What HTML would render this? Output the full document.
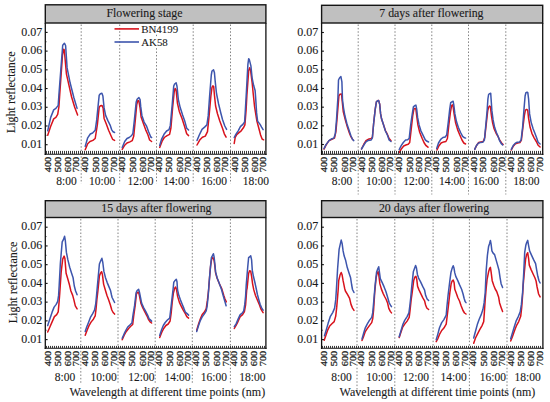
<!DOCTYPE html><html><head><meta charset="utf-8"><style>html,body{margin:0;padding:0;background:#fff;overflow:hidden}svg{display:block}text{font-family:"Liberation Serif",serif;fill:#1a1a1a;stroke:#1a1a1a;stroke-width:0.1px}</style></head><body>
<svg width="550" height="402" viewBox="0 0 550 402">
<rect x="0" y="0" width="550" height="402" fill="#fff"/>
<rect x="45.3" y="4.8" width="220.60" height="18.20" fill="#c0c0c0" stroke="#151515" stroke-width="1.4"/>
<text x="144.4" y="17.4" font-size="11.85" text-anchor="middle">Flowering stage</text>
<line x1="81.2" y1="24.5" x2="81.2" y2="183.5" stroke="#7a7a7a" stroke-width="0.95" stroke-dasharray="1.5,1.88"/>
<line x1="119.7" y1="24.5" x2="119.7" y2="183.5" stroke="#7a7a7a" stroke-width="0.95" stroke-dasharray="1.5,1.88"/>
<line x1="156.5" y1="24.5" x2="156.5" y2="183.5" stroke="#7a7a7a" stroke-width="0.95" stroke-dasharray="1.5,1.88"/>
<line x1="193.2" y1="24.5" x2="193.2" y2="183.5" stroke="#7a7a7a" stroke-width="0.95" stroke-dasharray="1.5,1.88"/>
<line x1="230.5" y1="24.5" x2="230.5" y2="183.5" stroke="#7a7a7a" stroke-width="0.95" stroke-dasharray="1.5,1.88"/>
<polyline points="47.7,135.3 50.7,126.3 53.7,118.9 55.9,117.4 57.7,114.4 58.9,107.0 59.7,95.0 62.5,55.0 63.7,49.2 64.3,50.0 66.4,73.8 71.6,97.0 74.6,107.0 77.6,115.1" fill="none" stroke="#d8121c" stroke-width="1.5" stroke-linejoin="round" stroke-linecap="round"/>
<polyline points="47.7,130.8 50.7,117.4 53.7,109.9 55.9,108.4 58.2,105.4 58.9,95.0 62.7,45.2 64.4,43.2 65.6,45.5 67.1,67.9 70.1,82.8 73.9,97.7 77.1,108.4" fill="none" stroke="#3d55ad" stroke-width="1.5" stroke-linejoin="round" stroke-linecap="round"/>
<polyline points="85.2,149.7 87.7,143.7 90.0,141.5 92.9,140.4 95.2,138.5 97.4,124.3 99.2,107.2 100.4,105.7 101.9,105.4 103.1,107.9 104.1,118.4 106.4,124.3 108.6,130.3 110.9,135.5 112.6,139.3 114.6,140.4" fill="none" stroke="#d8121c" stroke-width="1.5" stroke-linejoin="round" stroke-linecap="round"/>
<polyline points="85.2,146.4 87.7,137.8 90.3,134.0 92.6,133.0 95.2,130.3 96.7,119.9 98.2,104.9 99.2,95.2 100.4,93.7 101.9,93.3 102.9,96.0 104.1,107.9 105.6,115.4 107.9,120.6 110.1,125.1 111.6,129.6 113.1,131.8 114.6,132.5" fill="none" stroke="#3d55ad" stroke-width="1.5" stroke-linejoin="round" stroke-linecap="round"/>
<polyline points="122.2,149.4 124.7,145.2 127.0,143.0 129.9,141.9 132.2,140.7 133.7,136.3 135.2,121.3 136.7,104.9 137.9,100.4 138.9,101.2 140.1,107.9 141.1,116.9 143.4,123.6 145.6,129.6 147.9,134.8 149.6,140.0 151.6,141.5" fill="none" stroke="#d8121c" stroke-width="1.5" stroke-linejoin="round" stroke-linecap="round"/>
<polyline points="122.2,147.5 124.7,141.5 127.0,138.5 129.2,137.5 131.7,135.5 132.9,133.3 134.4,119.9 136.2,101.9 137.1,99.3 138.9,97.5 140.1,99.7 140.7,106.4 141.9,115.4 144.1,122.1 146.4,125.8 148.6,131.8 150.8,137.0 151.6,137.5" fill="none" stroke="#3d55ad" stroke-width="1.5" stroke-linejoin="round" stroke-linecap="round"/>
<polyline points="159.7,147.4 162.1,141.2 164.3,137.5 167.1,135.6 169.6,134.3 170.9,128.2 172.7,106.7 174.2,91.8 175.1,88.4 176.1,89.9 177.4,103.0 179.3,111.4 182.1,118.8 184.5,126.3 186.7,133.8 188.6,135.6" fill="none" stroke="#d8121c" stroke-width="1.5" stroke-linejoin="round" stroke-linecap="round"/>
<polyline points="159.7,145.5 161.5,139.4 164.0,134.3 166.6,131.0 169.0,129.7 170.3,125.4 172.2,104.9 173.7,86.2 174.6,84.0 176.1,82.8 177.0,86.2 178.3,99.3 180.2,107.6 182.6,115.1 184.9,121.6 186.7,128.2 188.6,130.0" fill="none" stroke="#3d55ad" stroke-width="1.5" stroke-linejoin="round" stroke-linecap="round"/>
<polyline points="197.0,145.0 199.7,140.1 202.4,137.2 205.3,136.1 207.5,131.6 209.1,115.9 210.9,95.8 212.0,87.4 212.9,85.9 213.7,86.6 214.4,94.8 215.6,106.0 217.4,113.5 219.8,121.0 222.5,128.2 224.3,133.8 226.1,137.2" fill="none" stroke="#d8121c" stroke-width="1.5" stroke-linejoin="round" stroke-linecap="round"/>
<polyline points="197.0,140.5 199.3,135.0 202.0,129.4 204.6,127.1 206.9,124.9 208.2,115.9 209.8,93.6 211.3,75.0 212.0,71.0 213.5,69.8 214.4,72.4 215.2,81.4 216.5,93.5 218.6,104.0 220.8,113.0 222.5,119.5 224.8,126.0 226.6,129.4" fill="none" stroke="#3d55ad" stroke-width="1.5" stroke-linejoin="round" stroke-linecap="round"/>
<polyline points="234.2,143.5 235.2,137.5 236.7,134.6 239.0,132.6 241.2,130.8 243.4,127.8 244.9,124.9 246.1,109.9 246.9,95.0 248.7,70.4 249.7,67.7 250.6,70.4 252.1,82.3 253.3,94.5 254.6,106.9 256.9,121.1 258.7,127.8 260.6,135.0 262.1,139.0 263.6,139.8" fill="none" stroke="#d8121c" stroke-width="1.5" stroke-linejoin="round" stroke-linecap="round"/>
<polyline points="234.2,137.5 236.0,134.1 238.2,130.8 240.4,126.6 243.1,124.1 244.6,121.9 245.2,112.9 246.5,90.0 247.9,64.4 248.7,58.7 249.4,59.9 250.9,65.9 252.1,77.8 253.6,85.3 255.1,90.5 255.6,97.0 256.6,112.9 257.6,121.1 259.9,124.1 261.6,127.1 263.1,129.6" fill="none" stroke="#3d55ad" stroke-width="1.5" stroke-linejoin="round" stroke-linecap="round"/>
<line x1="45.3" y1="23.0" x2="45.3" y2="154.95" stroke="#111" stroke-width="1.3"/>
<line x1="265.9" y1="23.0" x2="265.9" y2="154.95" stroke="#111" stroke-width="1.3"/>
<path d="M46.50 150.9V153.95M48.50 150.9V153.95M50.50 150.9V153.95M52.50 150.9V153.95M54.50 150.9V153.95M56.50 150.9V153.95M58.50 150.9V153.95M60.50 150.9V153.95M62.50 150.9V153.95M64.50 150.9V153.95M66.50 150.9V153.95M68.50 150.9V153.95M70.50 150.9V153.95M72.50 150.9V153.95M74.50 150.9V153.95M76.50 150.9V153.95M78.50 150.9V153.95M80.50 150.9V153.95M82.50 150.9V153.95M84.50 150.9V153.95M86.50 150.9V153.95M88.50 150.9V153.95M90.50 150.9V153.95M92.50 150.9V153.95M94.50 150.9V153.95M96.50 150.9V153.95M98.50 150.9V153.95M100.50 150.9V153.95M102.50 150.9V153.95M104.50 150.9V153.95M106.50 150.9V153.95M108.50 150.9V153.95M110.50 150.9V153.95M112.50 150.9V153.95M114.50 150.9V153.95M116.50 150.9V153.95M118.50 150.9V153.95M120.50 150.9V153.95M122.50 150.9V153.95M124.50 150.9V153.95M126.50 150.9V153.95M128.50 150.9V153.95M130.50 150.9V153.95M132.50 150.9V153.95M134.50 150.9V153.95M136.50 150.9V153.95M138.50 150.9V153.95M140.50 150.9V153.95M142.50 150.9V153.95M144.50 150.9V153.95M146.50 150.9V153.95M148.50 150.9V153.95M150.50 150.9V153.95M152.50 150.9V153.95M154.50 150.9V153.95M156.50 150.9V153.95M158.50 150.9V153.95M160.50 150.9V153.95M162.50 150.9V153.95M164.50 150.9V153.95M166.50 150.9V153.95M168.50 150.9V153.95M170.50 150.9V153.95M172.50 150.9V153.95M174.50 150.9V153.95M176.50 150.9V153.95M178.50 150.9V153.95M180.50 150.9V153.95M182.50 150.9V153.95M184.50 150.9V153.95M186.50 150.9V153.95M188.50 150.9V153.95M190.50 150.9V153.95M192.50 150.9V153.95M194.50 150.9V153.95M196.50 150.9V153.95M198.50 150.9V153.95M200.50 150.9V153.95M202.50 150.9V153.95M204.50 150.9V153.95M206.50 150.9V153.95M208.50 150.9V153.95M210.50 150.9V153.95M212.50 150.9V153.95M214.50 150.9V153.95M216.50 150.9V153.95M218.50 150.9V153.95M220.50 150.9V153.95M222.50 150.9V153.95M224.50 150.9V153.95M226.50 150.9V153.95M228.50 150.9V153.95M230.50 150.9V153.95M232.50 150.9V153.95M234.50 150.9V153.95M236.50 150.9V153.95M238.50 150.9V153.95M240.50 150.9V153.95M242.50 150.9V153.95M244.50 150.9V153.95M246.50 150.9V153.95M248.50 150.9V153.95M250.50 150.9V153.95M252.50 150.9V153.95M254.50 150.9V153.95M256.50 150.9V153.95M258.50 150.9V153.95M260.50 150.9V153.95M262.50 150.9V153.95M264.50 150.9V153.95" stroke="#222" stroke-width="0.9" fill="none"/>
<line x1="44.65" y1="154.25" x2="266.54999999999995" y2="154.25" stroke="#111" stroke-width="1.15"/>
<line x1="45.3" y1="144.70" x2="47.599999999999994" y2="144.70" stroke="#111" stroke-width="1.1"/>
<text x="42.3" y="147.80" font-size="12" text-anchor="end">0.01</text>
<line x1="45.3" y1="135.34" x2="46.599999999999994" y2="135.34" stroke="#111" stroke-width="0.7"/>
<line x1="45.3" y1="125.98" x2="47.599999999999994" y2="125.98" stroke="#111" stroke-width="1.1"/>
<text x="42.3" y="129.08" font-size="12" text-anchor="end">0.02</text>
<line x1="45.3" y1="116.62" x2="46.599999999999994" y2="116.62" stroke="#111" stroke-width="0.7"/>
<line x1="45.3" y1="107.27" x2="47.599999999999994" y2="107.27" stroke="#111" stroke-width="1.1"/>
<text x="42.3" y="110.37" font-size="12" text-anchor="end">0.03</text>
<line x1="45.3" y1="97.91" x2="46.599999999999994" y2="97.91" stroke="#111" stroke-width="0.7"/>
<line x1="45.3" y1="88.55" x2="47.599999999999994" y2="88.55" stroke="#111" stroke-width="1.1"/>
<text x="42.3" y="91.65" font-size="12" text-anchor="end">0.04</text>
<line x1="45.3" y1="79.19" x2="46.599999999999994" y2="79.19" stroke="#111" stroke-width="0.7"/>
<line x1="45.3" y1="69.83" x2="47.599999999999994" y2="69.83" stroke="#111" stroke-width="1.1"/>
<text x="42.3" y="72.93" font-size="12" text-anchor="end">0.05</text>
<line x1="45.3" y1="60.47" x2="46.599999999999994" y2="60.47" stroke="#111" stroke-width="0.7"/>
<line x1="45.3" y1="51.12" x2="47.599999999999994" y2="51.12" stroke="#111" stroke-width="1.1"/>
<text x="42.3" y="54.22" font-size="12" text-anchor="end">0.06</text>
<line x1="45.3" y1="41.76" x2="46.599999999999994" y2="41.76" stroke="#111" stroke-width="0.7"/>
<line x1="45.3" y1="32.40" x2="47.599999999999994" y2="32.40" stroke="#111" stroke-width="1.1"/>
<text x="42.3" y="35.50" font-size="12" text-anchor="end">0.07</text>
<text transform="translate(51.10,156.75) rotate(-90) scale(1,0.9)" font-size="10.3" text-anchor="end" style="stroke-width:0.3px">400</text>
<text transform="translate(61.10,156.75) rotate(-90) scale(1,0.9)" font-size="10.3" text-anchor="end" style="stroke-width:0.3px">500</text>
<text transform="translate(71.10,156.75) rotate(-90) scale(1,0.9)" font-size="10.3" text-anchor="end" style="stroke-width:0.3px">600</text>
<text transform="translate(79.40,156.75) rotate(-90) scale(1,0.9)" font-size="10.3" text-anchor="end" style="stroke-width:0.3px">700</text>
<text x="66.55" y="185.00" font-size="11.5" text-anchor="middle">8:00</text>
<text transform="translate(88.00,156.75) rotate(-90) scale(1,0.9)" font-size="10.3" text-anchor="end" style="stroke-width:0.3px">400</text>
<text transform="translate(98.50,156.75) rotate(-90) scale(1,0.9)" font-size="10.3" text-anchor="end" style="stroke-width:0.3px">500</text>
<text transform="translate(108.10,156.75) rotate(-90) scale(1,0.9)" font-size="10.3" text-anchor="end" style="stroke-width:0.3px">600</text>
<text transform="translate(116.60,156.75) rotate(-90) scale(1,0.9)" font-size="10.3" text-anchor="end" style="stroke-width:0.3px">700</text>
<text x="102.05" y="185.00" font-size="11.5" text-anchor="middle">10:00</text>
<text transform="translate(125.40,156.75) rotate(-90) scale(1,0.9)" font-size="10.3" text-anchor="end" style="stroke-width:0.3px">400</text>
<text transform="translate(135.90,156.75) rotate(-90) scale(1,0.9)" font-size="10.3" text-anchor="end" style="stroke-width:0.3px">500</text>
<text transform="translate(145.90,156.75) rotate(-90) scale(1,0.9)" font-size="10.3" text-anchor="end" style="stroke-width:0.3px">600</text>
<text transform="translate(154.00,156.75) rotate(-90) scale(1,0.9)" font-size="10.3" text-anchor="end" style="stroke-width:0.3px">700</text>
<text x="140.50" y="185.00" font-size="11.5" text-anchor="middle">12:00</text>
<text transform="translate(162.40,156.75) rotate(-90) scale(1,0.9)" font-size="10.3" text-anchor="end" style="stroke-width:0.3px">400</text>
<text transform="translate(172.10,156.75) rotate(-90) scale(1,0.9)" font-size="10.3" text-anchor="end" style="stroke-width:0.3px">500</text>
<text transform="translate(183.00,156.75) rotate(-90) scale(1,0.9)" font-size="10.3" text-anchor="end" style="stroke-width:0.3px">600</text>
<text transform="translate(190.90,156.75) rotate(-90) scale(1,0.9)" font-size="10.3" text-anchor="end" style="stroke-width:0.3px">700</text>
<text x="176.30" y="185.00" font-size="11.5" text-anchor="middle">14:00</text>
<text transform="translate(199.60,156.75) rotate(-90) scale(1,0.9)" font-size="10.3" text-anchor="end" style="stroke-width:0.3px">400</text>
<text transform="translate(210.10,156.75) rotate(-90) scale(1,0.9)" font-size="10.3" text-anchor="end" style="stroke-width:0.3px">500</text>
<text transform="translate(220.20,156.75) rotate(-90) scale(1,0.9)" font-size="10.3" text-anchor="end" style="stroke-width:0.3px">600</text>
<text transform="translate(228.40,156.75) rotate(-90) scale(1,0.9)" font-size="10.3" text-anchor="end" style="stroke-width:0.3px">700</text>
<text x="214.00" y="185.00" font-size="11.5" text-anchor="middle">16:00</text>
<text transform="translate(237.60,156.75) rotate(-90) scale(1,0.9)" font-size="10.3" text-anchor="end" style="stroke-width:0.3px">400</text>
<text transform="translate(247.50,156.75) rotate(-90) scale(1,0.9)" font-size="10.3" text-anchor="end" style="stroke-width:0.3px">500</text>
<text transform="translate(257.50,156.75) rotate(-90) scale(1,0.9)" font-size="10.3" text-anchor="end" style="stroke-width:0.3px">600</text>
<text transform="translate(265.80,156.75) rotate(-90) scale(1,0.9)" font-size="10.3" text-anchor="end" style="stroke-width:0.3px">700</text>
<text x="255.90" y="185.00" font-size="11.5" text-anchor="middle">18:00</text>
<line x1="114.5" y1="28.9" x2="139" y2="28.9" stroke="#d8121c" stroke-width="1.6"/>
<line x1="114.5" y1="42.0" x2="139" y2="42.0" stroke="#3d55ad" stroke-width="1.6"/>
<rect x="140.6" y="24.4" width="38" height="9.9" fill="#fff"/>
<rect x="140.6" y="36.9" width="27" height="10.1" fill="#fff"/>
<text x="141.2" y="32.8" font-size="10.9">BN4199</text>
<text x="141.2" y="45.6" font-size="10.9">AK58</text>
<rect x="321.6" y="5.3" width="221.10" height="17.70" fill="#c0c0c0" stroke="#151515" stroke-width="1.4"/>
<text x="431.4" y="17.4" font-size="11.85" text-anchor="middle">7 days after flowering</text>
<line x1="358.2" y1="24.5" x2="358.2" y2="194.5" stroke="#7a7a7a" stroke-width="0.95" stroke-dasharray="1.5,1.88"/>
<line x1="395.0" y1="24.5" x2="395.0" y2="194.5" stroke="#7a7a7a" stroke-width="0.95" stroke-dasharray="1.5,1.88"/>
<line x1="431.8" y1="24.5" x2="431.8" y2="194.5" stroke="#7a7a7a" stroke-width="0.95" stroke-dasharray="1.5,1.88"/>
<line x1="468.5" y1="24.5" x2="468.5" y2="194.5" stroke="#7a7a7a" stroke-width="0.95" stroke-dasharray="1.5,1.88"/>
<line x1="505.8" y1="24.5" x2="505.8" y2="194.5" stroke="#7a7a7a" stroke-width="0.95" stroke-dasharray="1.5,1.88"/>
<polyline points="324.0,149.2 326.0,145.2 329.0,140.6 331.9,139.3 334.5,138.1 335.9,131.7 337.3,115.8 338.9,95.9 339.9,94.3 341.5,93.9 342.1,99.9 343.3,111.8 345.3,119.8 347.3,126.7 349.3,132.7 350.9,136.7 352.8,139.7" fill="none" stroke="#d8121c" stroke-width="1.5" stroke-linejoin="round" stroke-linecap="round"/>
<polyline points="324.0,148.6 326.0,144.6 329.0,140.6 331.9,138.7 333.9,138.1 335.3,133.7 336.5,119.8 337.9,97.9 338.5,80.0 339.5,78.0 340.9,76.6 341.9,81.9 342.5,99.9 343.5,107.8 344.9,115.8 346.9,123.7 348.9,129.7 350.9,135.7 352.4,139.3 353.8,140.6" fill="none" stroke="#3d55ad" stroke-width="1.5" stroke-linejoin="round" stroke-linecap="round"/>
<polyline points="361.5,149.0 363.7,144.5 366.0,140.7 368.2,139.3 371.2,138.5 372.4,137.3 373.7,122.8 375.2,109.4 376.4,101.9 377.6,100.7 378.6,100.4 379.7,104.2 380.6,113.9 381.6,119.1 383.6,125.1 385.4,130.5 386.9,133.3 389.1,138.5 391.0,140.7" fill="none" stroke="#d8121c" stroke-width="1.5" stroke-linejoin="round" stroke-linecap="round"/>
<polyline points="361.5,149.0 363.3,146.0 365.7,142.2 368.2,140.4 371.2,140.0 372.4,137.8 373.7,122.8 375.2,109.4 376.4,101.9 377.6,100.7 378.6,100.4 379.7,104.2 380.6,113.9 381.6,119.1 383.6,125.1 385.4,131.0 387.6,135.5 389.1,140.0 391.0,141.5" fill="none" stroke="#3d55ad" stroke-width="1.5" stroke-linejoin="round" stroke-linecap="round"/>
<polyline points="399.2,152.5 401.5,148.7 403.7,146.0 405.9,145.0 408.2,144.3 409.7,142.5 411.2,129.3 412.7,115.9 413.9,109.2 414.9,108.4 415.9,109.2 416.7,115.9 417.9,124.9 419.7,132.3 422.1,138.3 424.1,142.8 426.1,145.7 428.0,147.2" fill="none" stroke="#d8121c" stroke-width="1.5" stroke-linejoin="round" stroke-linecap="round"/>
<polyline points="399.2,149.5 401.2,145.7 403.3,142.5 405.6,140.1 407.7,139.8 409.2,138.3 410.7,124.9 412.2,114.4 413.4,106.9 414.6,105.7 415.9,105.1 416.7,109.2 417.6,117.4 419.1,124.9 420.9,130.8 423.1,135.3 425.3,139.8 427.1,141.3 428.6,142.0" fill="none" stroke="#3d55ad" stroke-width="1.5" stroke-linejoin="round" stroke-linecap="round"/>
<polyline points="437.0,150.0 438.8,146.0 441.1,143.0 443.7,141.9 445.9,141.5 447.4,138.5 448.9,124.3 450.4,112.4 451.6,105.7 452.3,104.9 453.1,106.4 454.1,113.9 455.6,122.8 457.6,129.6 459.7,134.8 462.0,140.0 463.8,143.0 465.6,144.0" fill="none" stroke="#d8121c" stroke-width="1.5" stroke-linejoin="round" stroke-linecap="round"/>
<polyline points="436.7,148.5 438.5,143.0 440.7,139.3 442.9,137.5 445.2,137.0 446.7,134.8 448.2,122.8 449.7,109.4 450.7,102.7 451.9,101.9 453.1,101.2 453.8,104.9 454.9,113.9 456.4,121.3 458.3,127.3 460.6,132.5 462.6,136.3 464.6,137.8 465.6,138.1" fill="none" stroke="#3d55ad" stroke-width="1.5" stroke-linejoin="round" stroke-linecap="round"/>
<polyline points="474.7,149.4 476.7,145.2 478.7,142.5 481.1,141.9 483.2,141.5 484.7,137.8 486.2,124.3 487.7,110.9 488.6,107.2 489.6,106.1 490.4,106.7 491.4,115.4 492.6,122.8 494.1,128.8 496.1,133.3 497.9,136.3 499.6,140.0 501.6,143.0 503.1,144.5" fill="none" stroke="#d8121c" stroke-width="1.5" stroke-linejoin="round" stroke-linecap="round"/>
<polyline points="474.7,149.4 476.2,146.0 478.1,143.4 480.2,142.5 482.9,142.2 484.4,140.0 485.6,127.3 487.1,110.9 487.9,99.0 488.6,94.5 489.6,93.7 490.7,93.3 491.1,99.0 491.9,110.9 493.1,119.9 494.6,127.3 496.4,132.5 498.1,136.3 499.6,140.7 501.1,143.4 502.6,144.9" fill="none" stroke="#3d55ad" stroke-width="1.5" stroke-linejoin="round" stroke-linecap="round"/>
<polyline points="511.3,150.0 513.2,146.4 515.4,143.7 517.7,143.0 519.9,142.5 521.4,140.0 522.9,127.3 524.4,115.4 525.4,110.1 526.6,109.4 527.7,110.1 528.6,118.4 530.1,127.3 531.9,133.3 534.1,137.8 536.3,141.5 538.1,145.2 540.1,147.0" fill="none" stroke="#d8121c" stroke-width="1.5" stroke-linejoin="round" stroke-linecap="round"/>
<polyline points="511.3,149.4 513.2,145.5 515.1,143.4 517.2,142.2 519.6,141.9 521.1,140.0 522.6,127.3 524.1,107.9 525.1,96.0 525.9,92.7 527.1,92.2 527.8,92.7 528.6,99.0 529.6,113.9 531.1,122.1 533.1,128.8 534.9,133.3 536.6,137.8 538.1,142.2 540.1,144.0" fill="none" stroke="#3d55ad" stroke-width="1.5" stroke-linejoin="round" stroke-linecap="round"/>
<line x1="321.6" y1="23.0" x2="321.6" y2="154.95" stroke="#111" stroke-width="1.3"/>
<line x1="542.7" y1="23.0" x2="542.7" y2="154.95" stroke="#111" stroke-width="1.3"/>
<path d="M322.50 150.9V153.95M324.50 150.9V153.95M326.50 150.9V153.95M328.50 150.9V153.95M330.50 150.9V153.95M332.50 150.9V153.95M334.50 150.9V153.95M336.50 150.9V153.95M338.50 150.9V153.95M340.50 150.9V153.95M342.50 150.9V153.95M344.50 150.9V153.95M346.50 150.9V153.95M348.50 150.9V153.95M350.50 150.9V153.95M352.50 150.9V153.95M354.50 150.9V153.95M356.50 150.9V153.95M358.50 150.9V153.95M360.50 150.9V153.95M362.50 150.9V153.95M364.50 150.9V153.95M366.50 150.9V153.95M368.50 150.9V153.95M370.50 150.9V153.95M372.50 150.9V153.95M374.50 150.9V153.95M376.50 150.9V153.95M378.50 150.9V153.95M380.50 150.9V153.95M382.50 150.9V153.95M384.50 150.9V153.95M386.50 150.9V153.95M388.50 150.9V153.95M390.50 150.9V153.95M392.50 150.9V153.95M394.50 150.9V153.95M396.50 150.9V153.95M398.50 150.9V153.95M400.50 150.9V153.95M402.50 150.9V153.95M404.50 150.9V153.95M406.50 150.9V153.95M408.50 150.9V153.95M410.50 150.9V153.95M412.50 150.9V153.95M414.50 150.9V153.95M416.50 150.9V153.95M418.50 150.9V153.95M420.50 150.9V153.95M422.50 150.9V153.95M424.50 150.9V153.95M426.50 150.9V153.95M428.50 150.9V153.95M430.50 150.9V153.95M432.50 150.9V153.95M434.50 150.9V153.95M436.50 150.9V153.95M438.50 150.9V153.95M440.50 150.9V153.95M442.50 150.9V153.95M444.50 150.9V153.95M446.50 150.9V153.95M448.50 150.9V153.95M450.50 150.9V153.95M452.50 150.9V153.95M454.50 150.9V153.95M456.50 150.9V153.95M458.50 150.9V153.95M460.50 150.9V153.95M462.50 150.9V153.95M464.50 150.9V153.95M466.50 150.9V153.95M468.50 150.9V153.95M470.50 150.9V153.95M472.50 150.9V153.95M474.50 150.9V153.95M476.50 150.9V153.95M478.50 150.9V153.95M480.50 150.9V153.95M482.50 150.9V153.95M484.50 150.9V153.95M486.50 150.9V153.95M488.50 150.9V153.95M490.50 150.9V153.95M492.50 150.9V153.95M494.50 150.9V153.95M496.50 150.9V153.95M498.50 150.9V153.95M500.50 150.9V153.95M502.50 150.9V153.95M504.50 150.9V153.95M506.50 150.9V153.95M508.50 150.9V153.95M510.50 150.9V153.95M512.50 150.9V153.95M514.50 150.9V153.95M516.50 150.9V153.95M518.50 150.9V153.95M520.50 150.9V153.95M522.50 150.9V153.95M524.50 150.9V153.95M526.50 150.9V153.95M528.50 150.9V153.95M530.50 150.9V153.95M532.50 150.9V153.95M534.50 150.9V153.95M536.50 150.9V153.95M538.50 150.9V153.95M540.50 150.9V153.95" stroke="#222" stroke-width="0.9" fill="none"/>
<line x1="320.95000000000005" y1="154.25" x2="543.35" y2="154.25" stroke="#111" stroke-width="1.15"/>
<line x1="321.6" y1="144.50" x2="323.90000000000003" y2="144.50" stroke="#111" stroke-width="1.1"/>
<text x="318.3" y="147.60" font-size="12" text-anchor="end">0.01</text>
<line x1="321.6" y1="135.17" x2="322.90000000000003" y2="135.17" stroke="#111" stroke-width="0.7"/>
<line x1="321.6" y1="125.83" x2="323.90000000000003" y2="125.83" stroke="#111" stroke-width="1.1"/>
<text x="318.3" y="128.93" font-size="12" text-anchor="end">0.02</text>
<line x1="321.6" y1="116.50" x2="322.90000000000003" y2="116.50" stroke="#111" stroke-width="0.7"/>
<line x1="321.6" y1="107.17" x2="323.90000000000003" y2="107.17" stroke="#111" stroke-width="1.1"/>
<text x="318.3" y="110.27" font-size="12" text-anchor="end">0.03</text>
<line x1="321.6" y1="97.83" x2="322.90000000000003" y2="97.83" stroke="#111" stroke-width="0.7"/>
<line x1="321.6" y1="88.50" x2="323.90000000000003" y2="88.50" stroke="#111" stroke-width="1.1"/>
<text x="318.3" y="91.60" font-size="12" text-anchor="end">0.04</text>
<line x1="321.6" y1="79.17" x2="322.90000000000003" y2="79.17" stroke="#111" stroke-width="0.7"/>
<line x1="321.6" y1="69.83" x2="323.90000000000003" y2="69.83" stroke="#111" stroke-width="1.1"/>
<text x="318.3" y="72.93" font-size="12" text-anchor="end">0.05</text>
<line x1="321.6" y1="60.50" x2="322.90000000000003" y2="60.50" stroke="#111" stroke-width="0.7"/>
<line x1="321.6" y1="51.17" x2="323.90000000000003" y2="51.17" stroke="#111" stroke-width="1.1"/>
<text x="318.3" y="54.27" font-size="12" text-anchor="end">0.06</text>
<line x1="321.6" y1="41.83" x2="322.90000000000003" y2="41.83" stroke="#111" stroke-width="0.7"/>
<line x1="321.6" y1="32.50" x2="323.90000000000003" y2="32.50" stroke="#111" stroke-width="1.1"/>
<text x="318.3" y="35.60" font-size="12" text-anchor="end">0.07</text>
<text transform="translate(327.30,156.75) rotate(-90) scale(1,0.9)" font-size="10.3" text-anchor="end" style="stroke-width:0.3px">400</text>
<text transform="translate(337.40,156.75) rotate(-90) scale(1,0.9)" font-size="10.3" text-anchor="end" style="stroke-width:0.3px">500</text>
<text transform="translate(347.80,156.75) rotate(-90) scale(1,0.9)" font-size="10.3" text-anchor="end" style="stroke-width:0.3px">600</text>
<text transform="translate(355.70,156.75) rotate(-90) scale(1,0.9)" font-size="10.3" text-anchor="end" style="stroke-width:0.3px">700</text>
<text x="341.95" y="185.00" font-size="11.5" text-anchor="middle">8:00</text>
<text transform="translate(364.50,156.75) rotate(-90) scale(1,0.9)" font-size="10.3" text-anchor="end" style="stroke-width:0.3px">400</text>
<text transform="translate(374.70,156.75) rotate(-90) scale(1,0.9)" font-size="10.3" text-anchor="end" style="stroke-width:0.3px">500</text>
<text transform="translate(384.80,156.75) rotate(-90) scale(1,0.9)" font-size="10.3" text-anchor="end" style="stroke-width:0.3px">600</text>
<text transform="translate(393.00,156.75) rotate(-90) scale(1,0.9)" font-size="10.3" text-anchor="end" style="stroke-width:0.3px">700</text>
<text x="379.00" y="185.00" font-size="11.5" text-anchor="middle">10:00</text>
<text transform="translate(402.20,156.75) rotate(-90) scale(1,0.9)" font-size="10.3" text-anchor="end" style="stroke-width:0.3px">400</text>
<text transform="translate(412.70,156.75) rotate(-90) scale(1,0.9)" font-size="10.3" text-anchor="end" style="stroke-width:0.3px">500</text>
<text transform="translate(422.30,156.75) rotate(-90) scale(1,0.9)" font-size="10.3" text-anchor="end" style="stroke-width:0.3px">600</text>
<text transform="translate(430.60,156.75) rotate(-90) scale(1,0.9)" font-size="10.3" text-anchor="end" style="stroke-width:0.3px">700</text>
<text x="416.30" y="185.00" font-size="11.5" text-anchor="middle">12:00</text>
<text transform="translate(439.20,156.75) rotate(-90) scale(1,0.9)" font-size="10.3" text-anchor="end" style="stroke-width:0.3px">400</text>
<text transform="translate(449.40,156.75) rotate(-90) scale(1,0.9)" font-size="10.3" text-anchor="end" style="stroke-width:0.3px">500</text>
<text transform="translate(459.50,156.75) rotate(-90) scale(1,0.9)" font-size="10.3" text-anchor="end" style="stroke-width:0.3px">600</text>
<text transform="translate(467.70,156.75) rotate(-90) scale(1,0.9)" font-size="10.3" text-anchor="end" style="stroke-width:0.3px">700</text>
<text x="452.00" y="185.00" font-size="11.5" text-anchor="middle">14:00</text>
<text transform="translate(476.50,156.75) rotate(-90) scale(1,0.9)" font-size="10.3" text-anchor="end" style="stroke-width:0.3px">400</text>
<text transform="translate(486.10,156.75) rotate(-90) scale(1,0.9)" font-size="10.3" text-anchor="end" style="stroke-width:0.3px">500</text>
<text transform="translate(496.60,156.75) rotate(-90) scale(1,0.9)" font-size="10.3" text-anchor="end" style="stroke-width:0.3px">600</text>
<text transform="translate(504.50,156.75) rotate(-90) scale(1,0.9)" font-size="10.3" text-anchor="end" style="stroke-width:0.3px">700</text>
<text x="486.00" y="185.00" font-size="11.5" text-anchor="middle">16:00</text>
<text transform="translate(514.00,156.75) rotate(-90) scale(1,0.9)" font-size="10.3" text-anchor="end" style="stroke-width:0.3px">400</text>
<text transform="translate(524.40,156.75) rotate(-90) scale(1,0.9)" font-size="10.3" text-anchor="end" style="stroke-width:0.3px">500</text>
<text transform="translate(534.00,156.75) rotate(-90) scale(1,0.9)" font-size="10.3" text-anchor="end" style="stroke-width:0.3px">600</text>
<text transform="translate(542.70,156.75) rotate(-90) scale(1,0.9)" font-size="10.3" text-anchor="end" style="stroke-width:0.3px">700</text>
<text x="526.40" y="185.00" font-size="11.5" text-anchor="middle">18:00</text>
<rect x="45.3" y="200.7" width="220.60" height="16.80" fill="#c0c0c0" stroke="#151515" stroke-width="1.4"/>
<text x="156.4" y="212.4" font-size="11.85" text-anchor="middle">15 days after flowering</text>
<line x1="80.8" y1="219.0" x2="80.8" y2="384.5" stroke="#7a7a7a" stroke-width="0.95" stroke-dasharray="1.5,1.88"/>
<line x1="118.0" y1="219.0" x2="118.0" y2="384.5" stroke="#7a7a7a" stroke-width="0.95" stroke-dasharray="1.5,1.88"/>
<line x1="155.2" y1="219.0" x2="155.2" y2="384.5" stroke="#7a7a7a" stroke-width="0.95" stroke-dasharray="1.5,1.88"/>
<line x1="192.3" y1="219.0" x2="192.3" y2="384.5" stroke="#7a7a7a" stroke-width="0.95" stroke-dasharray="1.5,1.88"/>
<line x1="230.4" y1="219.0" x2="230.4" y2="384.5" stroke="#7a7a7a" stroke-width="0.95" stroke-dasharray="1.5,1.88"/>
<polyline points="47.7,332.0 50.0,326.8 52.2,321.6 54.4,316.6 56.7,314.6 58.2,311.9 58.9,304.4 59.7,294.0 61.2,271.8 62.7,259.1 64.1,256.1 64.9,258.4 66.1,273.3 67.9,279.3 69.5,285.0 70.9,291.0 72.7,295.4 73.9,299.9 75.3,305.9 77.1,308.9" fill="none" stroke="#d8121c" stroke-width="1.5" stroke-linejoin="round" stroke-linecap="round"/>
<polyline points="47.7,325.6 50.0,318.6 52.2,311.9 54.1,307.1 56.2,304.4 57.7,301.4 58.6,295.4 59.2,285.0 60.4,262.8 62.2,241.9 63.4,239.7 64.6,236.3 65.3,240.4 66.4,252.4 67.9,259.9 69.7,267.3 71.6,273.3 73.1,277.8 74.3,286.0 75.6,291.0 77.1,294.7" fill="none" stroke="#3d55ad" stroke-width="1.5" stroke-linejoin="round" stroke-linecap="round"/>
<polyline points="85.2,335.3 87.2,330.1 89.0,325.6 91.2,321.9 93.4,319.2 95.2,315.9 96.1,308.4 96.9,299.5 97.9,290.8 99.4,275.9 100.6,272.9 101.6,271.7 102.4,274.4 103.6,284.1 105.1,289.3 106.9,295.3 108.7,300.0 110.3,304.8 111.8,310.0 113.1,312.5 114.6,314.1" fill="none" stroke="#d8121c" stroke-width="1.5" stroke-linejoin="round" stroke-linecap="round"/>
<polyline points="85.2,331.6 86.7,327.1 88.7,321.9 90.4,317.4 92.7,313.7 94.6,309.9 95.7,304.0 96.4,296.8 97.9,280.4 99.4,264.0 100.6,261.0 101.9,258.3 102.8,262.5 103.9,271.4 105.4,277.4 107.2,282.6 109.1,287.1 110.6,290.8 111.5,295.0 112.1,297.5 113.6,300.5 114.6,302.5" fill="none" stroke="#3d55ad" stroke-width="1.5" stroke-linejoin="round" stroke-linecap="round"/>
<polyline points="122.2,339.7 124.2,335.2 126.3,331.5 128.6,328.5 130.7,326.3 132.7,324.5 133.7,315.8 135.2,305.4 136.4,294.2 137.6,292.3 138.6,292.3 139.4,295.7 140.9,303.1 142.7,307.6 144.6,311.4 146.9,315.8 148.6,319.6 150.1,321.8 151.6,323.0" fill="none" stroke="#d8121c" stroke-width="1.5" stroke-linejoin="round" stroke-linecap="round"/>
<polyline points="122.2,338.2 124.2,333.7 126.0,330.0 127.7,327.0 130.1,324.8 131.9,323.0 133.1,314.3 134.6,305.4 136.1,292.7 137.1,290.5 138.6,289.3 139.4,292.0 140.6,297.9 141.6,303.1 143.6,307.6 145.7,311.4 147.6,315.1 149.1,318.8 150.1,319.6 151.6,321.1" fill="none" stroke="#3d55ad" stroke-width="1.5" stroke-linejoin="round" stroke-linecap="round"/>
<polyline points="159.7,337.5 161.8,332.2 163.7,328.5 165.9,325.5 168.2,324.0 170.1,321.0 171.2,312.8 172.2,302.4 173.4,293.0 174.6,288.5 175.6,287.0 176.4,289.0 177.6,296.4 179.4,302.4 181.2,306.1 183.1,309.9 185.3,313.6 186.8,316.6 188.6,318.1" fill="none" stroke="#d8121c" stroke-width="1.5" stroke-linejoin="round" stroke-linecap="round"/>
<polyline points="159.7,335.5 161.5,330.0 163.3,325.5 165.2,322.5 167.4,320.0 169.7,318.1 170.7,309.9 171.9,299.4 173.1,289.0 173.8,282.2 174.6,281.1 176.3,279.2 177.0,281.8 177.5,289.7 178.8,295.3 180.3,299.6 182.1,304.0 183.9,308.4 185.3,312.1 187.1,313.6 188.6,315.1" fill="none" stroke="#3d55ad" stroke-width="1.5" stroke-linejoin="round" stroke-linecap="round"/>
<polyline points="196.7,330.3 198.5,324.3 200.3,319.1 202.2,314.6 204.4,312.1 206.2,308.7 207.4,300.4 208.6,290.0 209.6,277.0 210.6,266.0 211.6,259.5 212.6,257.7 213.4,258.2 214.1,260.5 214.9,266.4 215.6,272.9 217.1,278.3 219.4,283.8 221.6,288.3 223.8,295.5 225.0,299.0 226.3,301.9" fill="none" stroke="#d8121c" stroke-width="1.5" stroke-linejoin="round" stroke-linecap="round"/>
<polyline points="196.7,331.5 198.5,325.8 200.3,320.6 202.2,316.9 204.4,313.9 206.2,310.9 207.1,306.4 208.2,296.0 208.9,285.3 210.4,267.4 211.4,257.7 212.6,255.4 213.4,253.7 214.1,256.9 214.9,264.4 215.6,271.9 217.1,277.8 219.4,283.8 221.6,289.8 222.8,294.3 224.3,299.5 225.2,302.5 226.1,305.7" fill="none" stroke="#3d55ad" stroke-width="1.5" stroke-linejoin="round" stroke-linecap="round"/>
<polyline points="234.3,328.5 236.2,325.1 238.1,321.3 240.2,316.6 242.6,314.6 244.4,311.6 245.6,304.9 246.7,290.0 247.1,288.3 248.6,273.4 249.6,270.7 250.7,271.1 251.6,276.3 252.6,283.8 253.8,289.9 255.5,295.5 257.8,301.0 259.5,305.0 261.1,309.4 263.1,312.7" fill="none" stroke="#d8121c" stroke-width="1.5" stroke-linejoin="round" stroke-linecap="round"/>
<polyline points="234.3,326.6 236.2,323.6 238.1,319.1 240.2,314.6 242.2,313.1 243.7,310.9 244.7,304.9 245.6,296.0 246.2,285.3 247.7,267.4 248.6,257.7 249.6,256.9 250.7,255.7 251.6,259.9 252.3,270.4 253.4,276.3 255.2,283.8 256.5,290.0 257.4,294.5 258.8,299.7 260.1,304.2 261.6,307.9 263.1,310.1" fill="none" stroke="#3d55ad" stroke-width="1.5" stroke-linejoin="round" stroke-linecap="round"/>
<line x1="45.3" y1="217.5" x2="45.3" y2="348.95" stroke="#111" stroke-width="1.3"/>
<line x1="265.9" y1="217.5" x2="265.9" y2="348.95" stroke="#111" stroke-width="1.3"/>
<path d="M46.50 345.9V347.95M48.50 345.9V347.95M50.50 345.9V347.95M52.50 345.9V347.95M54.50 345.9V347.95M56.50 345.9V347.95M58.50 345.9V347.95M60.50 345.9V347.95M62.50 345.9V347.95M64.50 345.9V347.95M66.50 345.9V347.95M68.50 345.9V347.95M70.50 345.9V347.95M72.50 345.9V347.95M74.50 345.9V347.95M76.50 345.9V347.95M78.50 345.9V347.95M80.50 345.9V347.95M82.50 345.9V347.95M84.50 345.9V347.95M86.50 345.9V347.95M88.50 345.9V347.95M90.50 345.9V347.95M92.50 345.9V347.95M94.50 345.9V347.95M96.50 345.9V347.95M98.50 345.9V347.95M100.50 345.9V347.95M102.50 345.9V347.95M104.50 345.9V347.95M106.50 345.9V347.95M108.50 345.9V347.95M110.50 345.9V347.95M112.50 345.9V347.95M114.50 345.9V347.95M116.50 345.9V347.95M118.50 345.9V347.95M120.50 345.9V347.95M122.50 345.9V347.95M124.50 345.9V347.95M126.50 345.9V347.95M128.50 345.9V347.95M130.50 345.9V347.95M132.50 345.9V347.95M134.50 345.9V347.95M136.50 345.9V347.95M138.50 345.9V347.95M140.50 345.9V347.95M142.50 345.9V347.95M144.50 345.9V347.95M146.50 345.9V347.95M148.50 345.9V347.95M150.50 345.9V347.95M152.50 345.9V347.95M154.50 345.9V347.95M156.50 345.9V347.95M158.50 345.9V347.95M160.50 345.9V347.95M162.50 345.9V347.95M164.50 345.9V347.95M166.50 345.9V347.95M168.50 345.9V347.95M170.50 345.9V347.95M172.50 345.9V347.95M174.50 345.9V347.95M176.50 345.9V347.95M178.50 345.9V347.95M180.50 345.9V347.95M182.50 345.9V347.95M184.50 345.9V347.95M186.50 345.9V347.95M188.50 345.9V347.95M190.50 345.9V347.95M192.50 345.9V347.95M194.50 345.9V347.95M196.50 345.9V347.95M198.50 345.9V347.95M200.50 345.9V347.95M202.50 345.9V347.95M204.50 345.9V347.95M206.50 345.9V347.95M208.50 345.9V347.95M210.50 345.9V347.95M212.50 345.9V347.95M214.50 345.9V347.95M216.50 345.9V347.95M218.50 345.9V347.95M220.50 345.9V347.95M222.50 345.9V347.95M224.50 345.9V347.95M226.50 345.9V347.95M228.50 345.9V347.95M230.50 345.9V347.95M232.50 345.9V347.95M234.50 345.9V347.95M236.50 345.9V347.95M238.50 345.9V347.95M240.50 345.9V347.95M242.50 345.9V347.95M244.50 345.9V347.95M246.50 345.9V347.95M248.50 345.9V347.95M250.50 345.9V347.95M252.50 345.9V347.95M254.50 345.9V347.95M256.50 345.9V347.95M258.50 345.9V347.95M260.50 345.9V347.95M262.50 345.9V347.95M264.50 345.9V347.95" stroke="#222" stroke-width="0.9" fill="none"/>
<line x1="44.65" y1="348.25" x2="266.54999999999995" y2="348.25" stroke="#111" stroke-width="1.15"/>
<line x1="45.3" y1="339.60" x2="47.599999999999994" y2="339.60" stroke="#111" stroke-width="1.1"/>
<text x="42.3" y="342.70" font-size="12" text-anchor="end">0.01</text>
<line x1="45.3" y1="330.23" x2="46.599999999999994" y2="330.23" stroke="#111" stroke-width="0.7"/>
<line x1="45.3" y1="320.87" x2="47.599999999999994" y2="320.87" stroke="#111" stroke-width="1.1"/>
<text x="42.3" y="323.97" font-size="12" text-anchor="end">0.02</text>
<line x1="45.3" y1="311.50" x2="46.599999999999994" y2="311.50" stroke="#111" stroke-width="0.7"/>
<line x1="45.3" y1="302.13" x2="47.599999999999994" y2="302.13" stroke="#111" stroke-width="1.1"/>
<text x="42.3" y="305.23" font-size="12" text-anchor="end">0.03</text>
<line x1="45.3" y1="292.77" x2="46.599999999999994" y2="292.77" stroke="#111" stroke-width="0.7"/>
<line x1="45.3" y1="283.40" x2="47.599999999999994" y2="283.40" stroke="#111" stroke-width="1.1"/>
<text x="42.3" y="286.50" font-size="12" text-anchor="end">0.04</text>
<line x1="45.3" y1="274.03" x2="46.599999999999994" y2="274.03" stroke="#111" stroke-width="0.7"/>
<line x1="45.3" y1="264.67" x2="47.599999999999994" y2="264.67" stroke="#111" stroke-width="1.1"/>
<text x="42.3" y="267.77" font-size="12" text-anchor="end">0.05</text>
<line x1="45.3" y1="255.30" x2="46.599999999999994" y2="255.30" stroke="#111" stroke-width="0.7"/>
<line x1="45.3" y1="245.93" x2="47.599999999999994" y2="245.93" stroke="#111" stroke-width="1.1"/>
<text x="42.3" y="249.03" font-size="12" text-anchor="end">0.06</text>
<line x1="45.3" y1="236.57" x2="46.599999999999994" y2="236.57" stroke="#111" stroke-width="0.7"/>
<line x1="45.3" y1="227.20" x2="47.599999999999994" y2="227.20" stroke="#111" stroke-width="1.1"/>
<text x="42.3" y="230.30" font-size="12" text-anchor="end">0.07</text>
<text transform="translate(51.10,350.75) rotate(-90) scale(1,0.9)" font-size="10.3" text-anchor="end" style="stroke-width:0.3px">400</text>
<text transform="translate(60.90,350.75) rotate(-90) scale(1,0.9)" font-size="10.3" text-anchor="end" style="stroke-width:0.3px">500</text>
<text transform="translate(71.30,350.75) rotate(-90) scale(1,0.9)" font-size="10.3" text-anchor="end" style="stroke-width:0.3px">600</text>
<text transform="translate(79.40,350.75) rotate(-90) scale(1,0.9)" font-size="10.3" text-anchor="end" style="stroke-width:0.3px">700</text>
<text x="65.10" y="380.60" font-size="11.5" text-anchor="middle">8:00</text>
<text transform="translate(87.50,350.75) rotate(-90) scale(1,0.9)" font-size="10.3" text-anchor="end" style="stroke-width:0.3px">400</text>
<text transform="translate(98.00,350.75) rotate(-90) scale(1,0.9)" font-size="10.3" text-anchor="end" style="stroke-width:0.3px">500</text>
<text transform="translate(108.10,350.75) rotate(-90) scale(1,0.9)" font-size="10.3" text-anchor="end" style="stroke-width:0.3px">600</text>
<text transform="translate(116.80,350.75) rotate(-90) scale(1,0.9)" font-size="10.3" text-anchor="end" style="stroke-width:0.3px">700</text>
<text x="103.65" y="380.60" font-size="11.5" text-anchor="middle">10:00</text>
<text transform="translate(125.10,350.75) rotate(-90) scale(1,0.9)" font-size="10.3" text-anchor="end" style="stroke-width:0.3px">400</text>
<text transform="translate(135.20,350.75) rotate(-90) scale(1,0.9)" font-size="10.3" text-anchor="end" style="stroke-width:0.3px">500</text>
<text transform="translate(145.60,350.75) rotate(-90) scale(1,0.9)" font-size="10.3" text-anchor="end" style="stroke-width:0.3px">600</text>
<text transform="translate(153.90,350.75) rotate(-90) scale(1,0.9)" font-size="10.3" text-anchor="end" style="stroke-width:0.3px">700</text>
<text x="141.30" y="380.60" font-size="11.5" text-anchor="middle">12:00</text>
<text transform="translate(162.30,350.75) rotate(-90) scale(1,0.9)" font-size="10.3" text-anchor="end" style="stroke-width:0.3px">400</text>
<text transform="translate(172.90,350.75) rotate(-90) scale(1,0.9)" font-size="10.3" text-anchor="end" style="stroke-width:0.3px">500</text>
<text transform="translate(182.90,350.75) rotate(-90) scale(1,0.9)" font-size="10.3" text-anchor="end" style="stroke-width:0.3px">600</text>
<text transform="translate(191.10,350.75) rotate(-90) scale(1,0.9)" font-size="10.3" text-anchor="end" style="stroke-width:0.3px">700</text>
<text x="177.50" y="380.60" font-size="11.5" text-anchor="middle">14:00</text>
<text transform="translate(199.40,350.75) rotate(-90) scale(1,0.9)" font-size="10.3" text-anchor="end" style="stroke-width:0.3px">400</text>
<text transform="translate(209.00,350.75) rotate(-90) scale(1,0.9)" font-size="10.3" text-anchor="end" style="stroke-width:0.3px">500</text>
<text transform="translate(220.00,350.75) rotate(-90) scale(1,0.9)" font-size="10.3" text-anchor="end" style="stroke-width:0.3px">600</text>
<text transform="translate(229.10,350.75) rotate(-90) scale(1,0.9)" font-size="10.3" text-anchor="end" style="stroke-width:0.3px">700</text>
<text x="213.85" y="380.60" font-size="11.5" text-anchor="middle">16:00</text>
<text transform="translate(237.20,350.75) rotate(-90) scale(1,0.9)" font-size="10.3" text-anchor="end" style="stroke-width:0.3px">400</text>
<text transform="translate(246.70,350.75) rotate(-90) scale(1,0.9)" font-size="10.3" text-anchor="end" style="stroke-width:0.3px">500</text>
<text transform="translate(257.20,350.75) rotate(-90) scale(1,0.9)" font-size="10.3" text-anchor="end" style="stroke-width:0.3px">600</text>
<text transform="translate(265.70,350.75) rotate(-90) scale(1,0.9)" font-size="10.3" text-anchor="end" style="stroke-width:0.3px">700</text>
<text x="252.30" y="380.60" font-size="11.5" text-anchor="middle">18:00</text>
<text x="167.30" y="396.4" font-size="12" text-anchor="middle">Wavelength at different time points (nm)</text>
<rect x="321.6" y="200.7" width="221.30" height="16.80" fill="#c0c0c0" stroke="#151515" stroke-width="1.4"/>
<text x="434.0" y="212.4" font-size="11.85" text-anchor="middle">20 days after flowering</text>
<line x1="357.0" y1="219.0" x2="357.0" y2="393" stroke="#7a7a7a" stroke-width="0.95" stroke-dasharray="1.5,1.88"/>
<line x1="394.8" y1="219.0" x2="394.8" y2="393" stroke="#7a7a7a" stroke-width="0.95" stroke-dasharray="1.5,1.88"/>
<line x1="433.1" y1="219.0" x2="433.1" y2="393" stroke="#7a7a7a" stroke-width="0.95" stroke-dasharray="1.5,1.88"/>
<line x1="469.4" y1="219.0" x2="469.4" y2="393" stroke="#7a7a7a" stroke-width="0.95" stroke-dasharray="1.5,1.88"/>
<line x1="507.0" y1="219.0" x2="507.0" y2="393" stroke="#7a7a7a" stroke-width="0.95" stroke-dasharray="1.5,1.88"/>
<polyline points="324.2,340.2 326.0,335.0 327.8,329.8 329.7,326.0 331.9,323.8 334.2,321.6 335.7,316.3 336.7,307.4 337.6,296.9 338.2,289.5 338.7,280.7 340.1,274.8 341.2,272.5 342.1,274.8 343.1,280.7 344.6,288.2 345.4,291.0 347.6,294.7 349.6,298.4 351.0,304.4 352.5,308.1 354.0,310.4" fill="none" stroke="#d8121c" stroke-width="1.5" stroke-linejoin="round" stroke-linecap="round"/>
<polyline points="324.5,335.7 326.3,329.8 328.2,323.1 330.4,316.3 332.7,312.6 334.6,308.1 335.7,299.9 336.4,289.5 337.6,268.8 339.1,249.4 340.1,244.9 341.2,240.1 342.1,243.4 343.1,250.9 344.2,256.1 345.7,260.6 347.2,267.3 349.1,273.3 350.6,277.8 351.6,284.5 352.5,289.5 354.0,292.5" fill="none" stroke="#3d55ad" stroke-width="1.5" stroke-linejoin="round" stroke-linecap="round"/>
<polyline points="362.0,340.5 363.5,336.8 365.3,331.6 367.2,328.6 369.4,325.6 371.7,322.6 372.7,318.9 373.6,309.9 374.7,292.8 376.1,277.9 377.2,272.7 378.1,271.6 378.8,274.9 379.9,283.9 381.4,289.1 383.2,293.6 384.6,296.5 386.2,299.5 387.6,303.0 388.8,308.4 390.3,311.4 391.5,312.9" fill="none" stroke="#d8121c" stroke-width="1.5" stroke-linejoin="round" stroke-linecap="round"/>
<polyline points="362.0,339.0 363.5,333.8 365.3,327.8 367.2,324.1 369.4,320.4 371.7,317.4 372.7,312.9 373.6,303.0 375.1,285.4 376.6,271.9 377.6,269.3 378.7,266.7 379.4,271.9 380.3,278.7 382.1,282.4 384.1,286.9 385.9,291.5 387.4,296.5 389.1,302.5 390.6,305.5 391.5,306.6" fill="none" stroke="#3d55ad" stroke-width="1.5" stroke-linejoin="round" stroke-linecap="round"/>
<polyline points="399.2,337.5 400.7,333.1 402.7,327.1 404.7,324.1 407.1,321.1 409.2,317.4 410.1,309.9 411.2,299.5 412.2,292.3 413.7,280.4 414.9,277.1 415.9,276.2 416.7,278.9 417.6,286.4 419.1,290.1 420.9,293.8 422.7,297.6 424.6,300.8 425.6,305.0 426.8,308.0 428.6,309.5" fill="none" stroke="#d8121c" stroke-width="1.5" stroke-linejoin="round" stroke-linecap="round"/>
<polyline points="399.2,336.8 400.7,331.6 402.7,324.9 404.7,320.4 407.1,316.6 408.9,312.9 409.7,306.9 410.7,298.0 411.9,284.9 413.4,271.4 414.4,268.7 415.6,265.5 416.4,267.7 417.4,274.4 418.6,278.1 420.6,281.9 422.7,286.4 424.6,290.1 425.6,295.3 427.1,299.0 428.6,300.5" fill="none" stroke="#3d55ad" stroke-width="1.5" stroke-linejoin="round" stroke-linecap="round"/>
<polyline points="436.2,341.6 438.0,338.3 439.8,333.8 441.7,330.5 443.9,328.1 446.2,324.1 447.2,315.9 448.4,306.0 449.9,292.3 451.1,284.1 452.1,281.1 453.2,280.1 454.1,282.6 454.8,289.3 456.2,293.1 457.8,297.5 459.5,301.0 461.2,306.0 463.0,310.5 464.5,313.0 466.0,314.0" fill="none" stroke="#d8121c" stroke-width="1.5" stroke-linejoin="round" stroke-linecap="round"/>
<polyline points="436.2,339.8 437.7,334.6 439.5,327.8 441.7,322.6 443.9,319.6 446.2,315.1 446.9,306.9 448.1,295.0 449.9,280.4 451.0,272.2 452.1,268.4 453.2,265.8 453.9,267.7 454.8,272.9 455.9,276.7 457.7,280.4 459.6,284.9 461.6,289.3 463.0,293.8 464.1,298.3 465.1,301.5 466.0,302.6" fill="none" stroke="#3d55ad" stroke-width="1.5" stroke-linejoin="round" stroke-linecap="round"/>
<polyline points="473.7,343.2 475.5,338.0 477.3,334.3 479.6,329.8 482.2,325.3 483.7,321.6 484.4,311.9 485.2,299.9 486.2,288.0 487.1,279.3 488.6,271.8 489.6,268.5 490.4,267.3 491.1,271.8 492.2,280.7 493.7,285.2 495.2,289.0 496.7,291.5 498.6,296.9 499.6,302.9 501.1,307.4 502.6,311.6" fill="none" stroke="#d8121c" stroke-width="1.5" stroke-linejoin="round" stroke-linecap="round"/>
<polyline points="473.7,338.0 475.5,331.3 477.3,324.6 479.2,319.3 481.1,314.9 482.9,309.6 484.1,302.9 485.2,292.5 486.2,270.3 487.4,255.4 488.6,246.4 489.6,243.4 490.4,240.4 491.1,244.2 491.9,250.9 493.1,253.1 494.6,254.6 496.1,259.9 497.6,265.1 499.0,270.3 500.1,277.8 501.1,283.7 502.6,287.5" fill="none" stroke="#3d55ad" stroke-width="1.5" stroke-linejoin="round" stroke-linecap="round"/>
<polyline points="510.7,341.0 512.5,336.5 514.3,331.3 516.6,325.3 518.7,321.6 520.7,316.3 521.7,307.4 522.6,295.4 523.2,285.0 524.4,271.8 525.6,259.1 526.6,254.6 527.7,252.7 528.6,258.4 529.3,265.1 531.1,269.6 533.1,274.0 534.9,277.8 536.0,280.7 537.1,287.0 538.6,294.0 540.1,296.9" fill="none" stroke="#d8121c" stroke-width="1.5" stroke-linejoin="round" stroke-linecap="round"/>
<polyline points="510.7,338.7 512.5,332.8 514.3,326.8 516.2,320.8 518.4,316.3 520.2,311.9 521.4,304.4 522.6,292.5 523.7,273.3 524.7,252.4 525.9,244.9 526.6,242.7 527.7,240.4 528.6,245.7 529.6,250.9 531.6,255.4 533.7,259.9 535.6,263.6 536.6,269.6 537.8,276.3 539.0,280.7 540.1,283.0" fill="none" stroke="#3d55ad" stroke-width="1.5" stroke-linejoin="round" stroke-linecap="round"/>
<line x1="321.6" y1="217.5" x2="321.6" y2="348.95" stroke="#111" stroke-width="1.3"/>
<line x1="542.9" y1="217.5" x2="542.9" y2="348.95" stroke="#111" stroke-width="1.3"/>
<path d="M322.50 345.9V347.95M324.50 345.9V347.95M326.50 345.9V347.95M328.50 345.9V347.95M330.50 345.9V347.95M332.50 345.9V347.95M334.50 345.9V347.95M336.50 345.9V347.95M338.50 345.9V347.95M340.50 345.9V347.95M342.50 345.9V347.95M344.50 345.9V347.95M346.50 345.9V347.95M348.50 345.9V347.95M350.50 345.9V347.95M352.50 345.9V347.95M354.50 345.9V347.95M356.50 345.9V347.95M358.50 345.9V347.95M360.50 345.9V347.95M362.50 345.9V347.95M364.50 345.9V347.95M366.50 345.9V347.95M368.50 345.9V347.95M370.50 345.9V347.95M372.50 345.9V347.95M374.50 345.9V347.95M376.50 345.9V347.95M378.50 345.9V347.95M380.50 345.9V347.95M382.50 345.9V347.95M384.50 345.9V347.95M386.50 345.9V347.95M388.50 345.9V347.95M390.50 345.9V347.95M392.50 345.9V347.95M394.50 345.9V347.95M396.50 345.9V347.95M398.50 345.9V347.95M400.50 345.9V347.95M402.50 345.9V347.95M404.50 345.9V347.95M406.50 345.9V347.95M408.50 345.9V347.95M410.50 345.9V347.95M412.50 345.9V347.95M414.50 345.9V347.95M416.50 345.9V347.95M418.50 345.9V347.95M420.50 345.9V347.95M422.50 345.9V347.95M424.50 345.9V347.95M426.50 345.9V347.95M428.50 345.9V347.95M430.50 345.9V347.95M432.50 345.9V347.95M434.50 345.9V347.95M436.50 345.9V347.95M438.50 345.9V347.95M440.50 345.9V347.95M442.50 345.9V347.95M444.50 345.9V347.95M446.50 345.9V347.95M448.50 345.9V347.95M450.50 345.9V347.95M452.50 345.9V347.95M454.50 345.9V347.95M456.50 345.9V347.95M458.50 345.9V347.95M460.50 345.9V347.95M462.50 345.9V347.95M464.50 345.9V347.95M466.50 345.9V347.95M468.50 345.9V347.95M470.50 345.9V347.95M472.50 345.9V347.95M474.50 345.9V347.95M476.50 345.9V347.95M478.50 345.9V347.95M480.50 345.9V347.95M482.50 345.9V347.95M484.50 345.9V347.95M486.50 345.9V347.95M488.50 345.9V347.95M490.50 345.9V347.95M492.50 345.9V347.95M494.50 345.9V347.95M496.50 345.9V347.95M498.50 345.9V347.95M500.50 345.9V347.95M502.50 345.9V347.95M504.50 345.9V347.95M506.50 345.9V347.95M508.50 345.9V347.95M510.50 345.9V347.95M512.50 345.9V347.95M514.50 345.9V347.95M516.50 345.9V347.95M518.50 345.9V347.95M520.50 345.9V347.95M522.50 345.9V347.95M524.50 345.9V347.95M526.50 345.9V347.95M528.50 345.9V347.95M530.50 345.9V347.95M532.50 345.9V347.95M534.50 345.9V347.95M536.50 345.9V347.95M538.50 345.9V347.95M540.50 345.9V347.95" stroke="#222" stroke-width="0.9" fill="none"/>
<line x1="320.95000000000005" y1="348.25" x2="543.55" y2="348.25" stroke="#111" stroke-width="1.15"/>
<line x1="321.6" y1="339.60" x2="323.90000000000003" y2="339.60" stroke="#111" stroke-width="1.1"/>
<text x="318.3" y="342.70" font-size="12" text-anchor="end">0.01</text>
<line x1="321.6" y1="330.23" x2="322.90000000000003" y2="330.23" stroke="#111" stroke-width="0.7"/>
<line x1="321.6" y1="320.87" x2="323.90000000000003" y2="320.87" stroke="#111" stroke-width="1.1"/>
<text x="318.3" y="323.97" font-size="12" text-anchor="end">0.02</text>
<line x1="321.6" y1="311.50" x2="322.90000000000003" y2="311.50" stroke="#111" stroke-width="0.7"/>
<line x1="321.6" y1="302.13" x2="323.90000000000003" y2="302.13" stroke="#111" stroke-width="1.1"/>
<text x="318.3" y="305.23" font-size="12" text-anchor="end">0.03</text>
<line x1="321.6" y1="292.77" x2="322.90000000000003" y2="292.77" stroke="#111" stroke-width="0.7"/>
<line x1="321.6" y1="283.40" x2="323.90000000000003" y2="283.40" stroke="#111" stroke-width="1.1"/>
<text x="318.3" y="286.50" font-size="12" text-anchor="end">0.04</text>
<line x1="321.6" y1="274.03" x2="322.90000000000003" y2="274.03" stroke="#111" stroke-width="0.7"/>
<line x1="321.6" y1="264.67" x2="323.90000000000003" y2="264.67" stroke="#111" stroke-width="1.1"/>
<text x="318.3" y="267.77" font-size="12" text-anchor="end">0.05</text>
<line x1="321.6" y1="255.30" x2="322.90000000000003" y2="255.30" stroke="#111" stroke-width="0.7"/>
<line x1="321.6" y1="245.93" x2="323.90000000000003" y2="245.93" stroke="#111" stroke-width="1.1"/>
<text x="318.3" y="249.03" font-size="12" text-anchor="end">0.06</text>
<line x1="321.6" y1="236.57" x2="322.90000000000003" y2="236.57" stroke="#111" stroke-width="0.7"/>
<line x1="321.6" y1="227.20" x2="323.90000000000003" y2="227.20" stroke="#111" stroke-width="1.1"/>
<text x="318.3" y="230.30" font-size="12" text-anchor="end">0.07</text>
<text transform="translate(327.30,350.75) rotate(-90) scale(1,0.9)" font-size="10.3" text-anchor="end" style="stroke-width:0.3px">400</text>
<text transform="translate(336.90,350.75) rotate(-90) scale(1,0.9)" font-size="10.3" text-anchor="end" style="stroke-width:0.3px">500</text>
<text transform="translate(347.80,350.75) rotate(-90) scale(1,0.9)" font-size="10.3" text-anchor="end" style="stroke-width:0.3px">600</text>
<text transform="translate(355.70,350.75) rotate(-90) scale(1,0.9)" font-size="10.3" text-anchor="end" style="stroke-width:0.3px">700</text>
<text x="341.50" y="380.60" font-size="11.5" text-anchor="middle">8:00</text>
<text transform="translate(363.90,350.75) rotate(-90) scale(1,0.9)" font-size="10.3" text-anchor="end" style="stroke-width:0.3px">400</text>
<text transform="translate(374.50,350.75) rotate(-90) scale(1,0.9)" font-size="10.3" text-anchor="end" style="stroke-width:0.3px">500</text>
<text transform="translate(385.00,350.75) rotate(-90) scale(1,0.9)" font-size="10.3" text-anchor="end" style="stroke-width:0.3px">600</text>
<text transform="translate(393.80,350.75) rotate(-90) scale(1,0.9)" font-size="10.3" text-anchor="end" style="stroke-width:0.3px">700</text>
<text x="379.30" y="380.60" font-size="11.5" text-anchor="middle">10:00</text>
<text transform="translate(402.00,350.75) rotate(-90) scale(1,0.9)" font-size="10.3" text-anchor="end" style="stroke-width:0.3px">400</text>
<text transform="translate(411.90,350.75) rotate(-90) scale(1,0.9)" font-size="10.3" text-anchor="end" style="stroke-width:0.3px">500</text>
<text transform="translate(421.90,350.75) rotate(-90) scale(1,0.9)" font-size="10.3" text-anchor="end" style="stroke-width:0.3px">600</text>
<text transform="translate(430.70,350.75) rotate(-90) scale(1,0.9)" font-size="10.3" text-anchor="end" style="stroke-width:0.3px">700</text>
<text x="415.80" y="380.60" font-size="11.5" text-anchor="middle">12:00</text>
<text transform="translate(438.50,350.75) rotate(-90) scale(1,0.9)" font-size="10.3" text-anchor="end" style="stroke-width:0.3px">400</text>
<text transform="translate(448.90,350.75) rotate(-90) scale(1,0.9)" font-size="10.3" text-anchor="end" style="stroke-width:0.3px">500</text>
<text transform="translate(458.90,350.75) rotate(-90) scale(1,0.9)" font-size="10.3" text-anchor="end" style="stroke-width:0.3px">600</text>
<text transform="translate(467.90,350.75) rotate(-90) scale(1,0.9)" font-size="10.3" text-anchor="end" style="stroke-width:0.3px">700</text>
<text x="453.70" y="380.60" font-size="11.5" text-anchor="middle">14:00</text>
<text transform="translate(475.50,350.75) rotate(-90) scale(1,0.9)" font-size="10.3" text-anchor="end" style="stroke-width:0.3px">400</text>
<text transform="translate(486.60,350.75) rotate(-90) scale(1,0.9)" font-size="10.3" text-anchor="end" style="stroke-width:0.3px">500</text>
<text transform="translate(497.20,350.75) rotate(-90) scale(1,0.9)" font-size="10.3" text-anchor="end" style="stroke-width:0.3px">600</text>
<text transform="translate(505.00,350.75) rotate(-90) scale(1,0.9)" font-size="10.3" text-anchor="end" style="stroke-width:0.3px">700</text>
<text x="492.80" y="380.60" font-size="11.5" text-anchor="middle">16:00</text>
<text transform="translate(513.70,350.75) rotate(-90) scale(1,0.9)" font-size="10.3" text-anchor="end" style="stroke-width:0.3px">400</text>
<text transform="translate(523.90,350.75) rotate(-90) scale(1,0.9)" font-size="10.3" text-anchor="end" style="stroke-width:0.3px">500</text>
<text transform="translate(534.00,350.75) rotate(-90) scale(1,0.9)" font-size="10.3" text-anchor="end" style="stroke-width:0.3px">600</text>
<text transform="translate(542.50,350.75) rotate(-90) scale(1,0.9)" font-size="10.3" text-anchor="end" style="stroke-width:0.3px">700</text>
<text x="527.70" y="380.60" font-size="11.5" text-anchor="middle">18:00</text>
<text x="437.50" y="396.4" font-size="12" text-anchor="middle">Wavelength at different time points (nm)</text>
<text transform="translate(15.2,92.3) rotate(-90)" font-size="12" text-anchor="middle">Light reflectance</text>
<text transform="translate(17.0,282.4) rotate(-90)" font-size="12" text-anchor="middle">Light reflectance</text>
</svg></body></html>
